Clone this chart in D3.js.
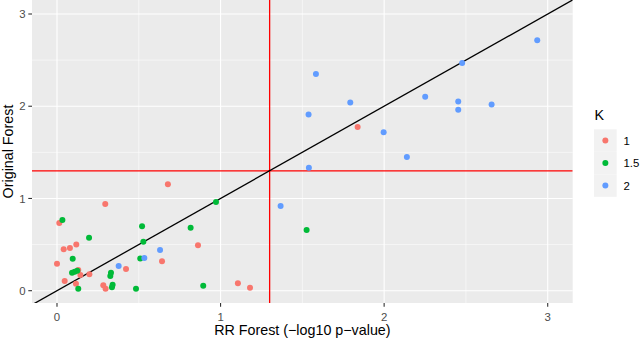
<!DOCTYPE html>
<html>
<head>
<meta charset="utf-8">
<script src="https://cdn.jsdelivr.net/npm/d3@7"></script>
<style>
  html, body { margin: 0; padding: 0; background: #fff; }
  svg { display: block; font-family: "Liberation Sans", Arial, Helvetica, sans-serif; }
</style>
</head>
<body>
<svg id="chart" width="640" height="339"></svg>
<script>
// ---- Data ----
const xTicks = [0, 1, 2, 3];
const yTicks = [0, 1, 2, 3];
const xMinor = [0.5, 1.5, 2.5];
const yMinor = [0.5, 1.5, 2.5];
const kLevels = ["1", "1.5", "2"];
const kColors = ["#F8766D", "#00BA38", "#619CFF"];
const threshold = 1.3;

// K = 1
const k1X = [0.295, 0.014, 0.118, 0.079, 0.041, 0.000, 0.422, 0.130, 0.143, 0.198, 0.047, 0.116, 0.283, 0.297, 0.678, 0.862, 0.642, 1.106, 1.180, 1.838];
const k1Y = [0.940, 0.734, 0.500, 0.463, 0.449, 0.293, 0.235, 0.224, 0.170, 0.178, 0.105, 0.076, 0.058, 0.022, 1.154, 0.492, 0.319, 0.080, 0.033, 1.776];
// K = 1.5
const k15X = [0.033, 0.520, 0.196, 0.528, 0.096, 0.509, 0.092, 0.108, 0.124, 0.330, 0.326, 0.130, 0.340, 0.336, 0.483, 0.972, 0.817, 0.894, 1.526];
const k15Y = [0.767, 0.700, 0.575, 0.530, 0.347, 0.350, 0.195, 0.206, 0.217, 0.195, 0.160, 0.022, 0.065, 0.037, 0.022, 0.962, 0.683, 0.054, 0.658];
// K = 2
const k2X = [0.534, 0.377, 0.630, 1.583, 1.793, 1.538, 1.997, 2.139, 1.540, 1.367, 2.936, 2.477, 2.251, 2.453, 2.453, 2.657];
const k2Y = [0.355, 0.268, 0.441, 2.350, 2.040, 1.910, 1.718, 1.450, 1.334, 0.919, 2.716, 2.470, 2.104, 2.050, 1.963, 2.020];

// ---- Layout ----
const svg = d3.select("#chart");
const panel = { left: 32, right: 572.7, top: 0, bottom: 303 };

const x = d3.scaleLinear().domain([-0.1528, 3.1528]).range([panel.left, panel.right]);
const y = d3.scaleLinear().domain([-0.1334, 3.1518]).range([panel.bottom, panel.top]);

svg.append("rect").attr("width", 640).attr("height", 339).attr("fill", "#fff");

// panel background
svg.append("rect")
  .attr("x", panel.left).attr("y", panel.top)
  .attr("width", panel.right - panel.left).attr("height", panel.bottom - panel.top)
  .attr("fill", "#EBEBEB");

const grid = svg.append("g");
// minor grid
grid.selectAll("line.xm").data(xMinor).enter().append("line")
  .attr("x1", d => x(d)).attr("x2", d => x(d))
  .attr("y1", panel.top).attr("y2", panel.bottom)
  .attr("stroke", "#fff").attr("stroke-width", 0.55);
grid.selectAll("line.ym").data(yMinor).enter().append("line")
  .attr("y1", d => y(d)).attr("y2", d => y(d))
  .attr("x1", panel.left).attr("x2", panel.right)
  .attr("stroke", "#fff").attr("stroke-width", 0.55);
// major grid
grid.selectAll("line.xM").data(xTicks).enter().append("line")
  .attr("x1", d => x(d)).attr("x2", d => x(d))
  .attr("y1", panel.top).attr("y2", panel.bottom)
  .attr("stroke", "#fff").attr("stroke-width", 1.1);
grid.selectAll("line.yM").data(yTicks).enter().append("line")
  .attr("y1", d => y(d)).attr("y2", d => y(d))
  .attr("x1", panel.left).attr("x2", panel.right)
  .attr("stroke", "#fff").attr("stroke-width", 1.1);

// clip
svg.append("clipPath").attr("id", "clip").append("rect")
  .attr("x", panel.left).attr("y", panel.top)
  .attr("width", panel.right - panel.left).attr("height", panel.bottom - panel.top);

const plot = svg.append("g").attr("clip-path", "url(#clip)");

// reference lines
plot.append("line")
  .attr("x1", x(threshold)).attr("x2", x(threshold))
  .attr("y1", panel.top).attr("y2", panel.bottom)
  .attr("stroke", "#FF0000").attr("stroke-width", 1.3);
plot.append("line")
  .attr("x1", panel.left).attr("x2", panel.right)
  .attr("y1", y(threshold)).attr("y2", y(threshold))
  .attr("stroke", "#FF0000").attr("stroke-width", 1.3);
// y = x line
const ld = x.domain();
plot.append("line")
  .attr("x1", x(ld[0])).attr("y1", y(ld[0]))
  .attr("x2", x(ld[1])).attr("y2", y(ld[1]))
  .attr("stroke", "#000").attr("stroke-width", 1.3);

// points
const series = [
  { xs: k1X, ys: k1Y, c: kColors[0] },
  { xs: k15X, ys: k15Y, c: kColors[1] },
  { xs: k2X, ys: k2Y, c: kColors[2] }
];
series.forEach(s => {
  const pts = s.xs.map((v, i) => [v, s.ys[i]]);
  plot.append("g").selectAll("circle").data(pts).enter().append("circle")
    .attr("cx", d => x(d[0])).attr("cy", d => y(d[1]))
    .attr("r", 3).attr("fill", s.c);
});

// axes
const tickColor = "#333333", labColor = "#4D4D4D";
const xAxis = svg.append("g");
xAxis.selectAll("line").data(xTicks).enter().append("line")
  .attr("x1", d => x(d)).attr("x2", d => x(d))
  .attr("y1", panel.bottom).attr("y2", panel.bottom + 3.7)
  .attr("stroke", tickColor).attr("stroke-width", 1.1);
xAxis.selectAll("text").data(xTicks).enter().append("text")
  .attr("x", d => x(d)).attr("y", 320.7)
  .attr("text-anchor", "middle").attr("font-size", 11.4).attr("fill", labColor)
  .text(d => d);

const yAxis = svg.append("g");
yAxis.selectAll("line").data(yTicks).enter().append("line")
  .attr("x1", panel.left - 3.7).attr("x2", panel.left)
  .attr("y1", d => y(d)).attr("y2", d => y(d))
  .attr("stroke", tickColor).attr("stroke-width", 1.1);
yAxis.selectAll("text").data(yTicks).enter().append("text")
  .attr("x", 25.5).attr("y", d => y(d) + 4.1)
  .attr("text-anchor", "end").attr("font-size", 11.4).attr("fill", labColor)
  .text(d => d);

// axis titles
svg.append("text")
  .attr("x", (panel.left + panel.right) / 2).attr("y", 335)
  .attr("text-anchor", "middle").attr("font-size", 14.3).attr("fill", "#000")
  .text("RR Forest (\u2212log10 p\u2212value)");
svg.append("text")
  .attr("transform", `translate(13.3, ${(panel.top + panel.bottom) / 2}) rotate(-90)`)
  .attr("text-anchor", "middle").attr("font-size", 14.3).attr("fill", "#000")
  .text("Original Forest");

// legend
const lg = svg.append("g");
lg.append("text").attr("x", 594.5).attr("y", 119.5)
  .attr("font-size", 14.3).attr("fill", "#000").text("K");
const keyH = 22.5, keyW = 22.7, keyTop = 129.3, keyX = 594;
lg.selectAll("rect").data(kLevels).enter().append("rect")
  .attr("x", keyX).attr("y", (d, i) => keyTop + i * keyH)
  .attr("width", keyW).attr("height", keyH)
  .attr("fill", "#F2F2F2");
lg.selectAll("circle").data(kLevels).enter().append("circle")
  .attr("cx", keyX + keyW / 2).attr("cy", (d, i) => keyTop + i * keyH + keyH / 2)
  .attr("r", 3).attr("fill", (d, i) => kColors[i]);
lg.selectAll("text.lab").data(kLevels).enter().append("text")
  .attr("class", "lab")
  .attr("x", 623.5).attr("y", (d, i) => keyTop + i * keyH + keyH / 2 + 4.1)
  .attr("font-size", 11.4).attr("fill", "#000").text(d => d);
</script>
</body>
</html>
